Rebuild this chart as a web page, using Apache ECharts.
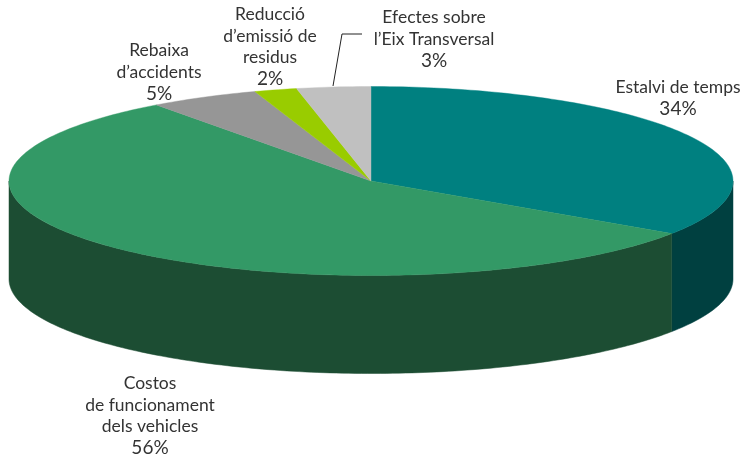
<!DOCTYPE html>
<html>
<head>
<meta charset="utf-8">
<style>html,body{margin:0;padding:0;background:#fff}#c{width:745px;height:457px}</style>
<script src="https://cdn.jsdelivr.net/npm/echarts@6/dist/echarts.min.js"></script>
</head>
<body>
<div id="c"></div>
<script>
const categories = [
  "Estalvi de temps",
  "Costos\nde funcionament\ndels vehicles",
  "Rebaixa\nd’accidents",
  "Reducció\nd’emissió de\nresidus",
  "Efectes sobre\nl’Eix Transversal"
];
const values = [34.4, 55.5, 4.9, 1.9, 3.3];
const percentLabels = ["34%", "56%", "5%", "2%", "3%"];
const topColors = ["#008080", "#339966", "#969696", "#99CC00", "#C0C0C0"];
const sideColors = ["#004040", "#1C4D33", "#4B4B4B", "#4D6600", "#606060"];

const CX = 371, CY = 181, RX = 362, RY = 94.5, DEPTH = 98;
const total = values.reduce((a, b) => a + b, 0);
const starts = [];
values.reduce((acc, v, i) => { starts[i] = acc; return acc + v; }, 0);
const toAngle = v => v / total * 2 * Math.PI;
const pt = (a, dy) => [CX + RX * Math.sin(a), CY - RY * Math.cos(a) + (dy || 0)];

function arc(a0, a1, dy) {
  const n = Math.max(2, Math.ceil((a1 - a0) / (Math.PI / 180)));
  const out = [];
  for (let k = 0; k <= n; k++) out.push(pt(a0 + (a1 - a0) * k / n, dy));
  return out;
}

function renderItem(params, api) {
  const i = params.dataIndex;
  const a0 = toAngle(starts[i]);
  const a1 = a0 + toAngle(api.value(1));
  const children = [];
  const s0 = Math.max(a0, Math.PI / 2), s1 = Math.min(a1, Math.PI * 1.5);
  if (s1 > s0) {
    const pts = arc(s0, s1, 0).concat(arc(s0, s1, DEPTH).reverse());
    children.push({
      type: 'polygon', shape: { points: pts },
      style: { fill: sideColors[i], stroke: sideColors[i], lineWidth: 0.5 }
    });
  }
  children.push({
    type: 'polygon', shape: { points: [[CX, CY]].concat(arc(a0, a1, 0)) },
    style: { fill: topColors[i], stroke: topColors[i], lineWidth: 0.4 }
  });
  return { type: 'group', children };
}

const FONT = 'Lato';
const textEl = (i, x, y) => ({
  type: 'text', x, y, silent: true,
  style: {
    text: categories[i].split("\n").map(l => "{n|" + l + "}").join("\n") + "\n{p|" + percentLabels[i] + "}",
    fontFamily: FONT,
    fill: '#333333', align: 'center', verticalAlign: 'top',
    rich: {
      n: { fontSize: 17.5, fontFamily: FONT, fill: '#333333', lineHeight: 21.5, align: 'center' },
      p: { fontSize: 19, fontFamily: FONT, fill: '#333333', lineHeight: 21.5, align: 'center' }
    }
  }
});

const chart = echarts.init(document.getElementById('c'), null, { renderer: 'canvas' });
chart.setOption({
  animation: false,
  backgroundColor: '#fff',
  series: [{
    type: 'custom',
    coordinateSystem: 'none',
    silent: true,
    data: values.map((v, i) => [i, v]),
    renderItem
  }],
  graphic: [
    textEl(0, 678, 77),
    textEl(1, 150, 373),
    textEl(2, 159, 40),
    textEl(3, 270, 4),
    textEl(4, 434, 7),
    {
      type: 'polyline', silent: true,
      shape: { points: [[333, 86], [342, 34], [362, 34]] },
      style: { stroke: '#222', lineWidth: 1, fill: null }
    }
  ]
});
</script>
</body>
</html>
